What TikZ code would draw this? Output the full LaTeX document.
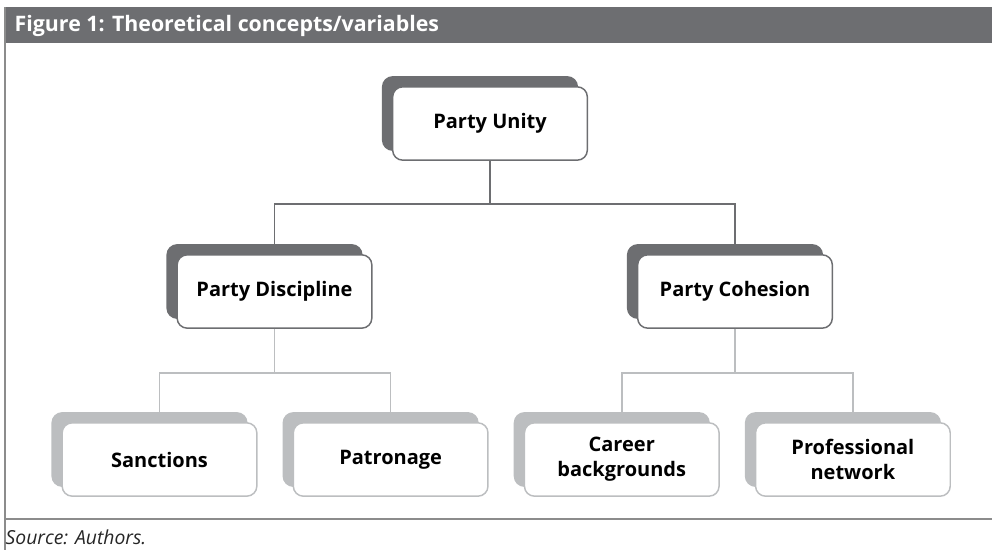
\documentclass[tikz,border=0pt]{standalone}
\usepackage{fontspec}
\setmainfont{Open Sans}
\usepackage{tikz}
\usetikzlibrary{positioning,shadows}
\definecolor{darkgrey}{HTML}{6D6E71}
\definecolor{lightgrey}{HTML}{BCBEC0}
\definecolor{framegrey}{HTML}{8C8C8C}
\tikzset{
  tree/box/.style={draw, fill=white, rounded corners=7.5pt, line width=1.1pt, minimum width=146pt, minimum height=55pt, align=center, font=\fontsize{15}{18.75}\selectfont\bfseries},
  tree/upper/.style={tree/box, draw=darkgrey, copy shadow={shadow xshift=-7.5pt, shadow yshift=7.5pt, fill=darkgrey, draw=darkgrey}},
  tree/leaf/.style={tree/box, draw=lightgrey, copy shadow={shadow xshift=-7.5pt, shadow yshift=7.5pt, fill=lightgrey, draw=lightgrey}},
  tree/link/.style={line width=1.1pt, draw=darkgrey},
  tree/leaflink/.style={line width=1.1pt, draw=lightgrey}
}

\begin{document}
\begin{tikzpicture}[x=0.75pt, y=-0.75pt]
  \useasboundingbox (0,0) rectangle (992,550);

  % frame and header
  \fill[darkgrey] (5,7) rectangle (992,43);
  \node[anchor=west, text=white, font=\fontsize{16}{19}\selectfont\bfseries] (title) at (10,25.5) {Figure 1: Theoretical concepts/variables};
  \draw[framegrey, line width=0.9pt] (5,7) -- (5,550);
  \draw[framegrey, line width=0.9pt] (5,519) -- (992,519);
  \node[anchor=west, font=\fontsize{14.5}{17}\selectfont\itshape, text=black!85] (source) at (1,537) {Source: Authors.};

  % concept tree
  \node[tree/upper] (unity) at (490,123.5) {Party Unity};
  \node[tree/upper] (discipline) at (274.5,291.5) {Party Discipline};
  \node[tree/upper] (cohesion) at (735,291.5) {Party Cohesion};

  \node[tree/leaf] (sanctions) at (159.5,459.5) {Sanctions};
  \node[tree/leaf, right=26.25pt of sanctions] (patronage) {Patronage};
  \node[tree/leaf, right=26.25pt of patronage] (career) {Career\\backgrounds};
  \node[tree/leaf, right=26.25pt of career] (network) {Professional\\network};

  \draw[tree/link] (unity.south) -- ++(0,43) -| (discipline.north);
  \draw[tree/link] (unity.south) -- ++(0,43) -| (cohesion.north);

  \draw[tree/leaflink] (discipline.south) -- ++(0,44) -| (sanctions.north);
  \draw[tree/leaflink] (discipline.south) -- ++(0,44) -| (patronage.north);
  \draw[tree/leaflink] (cohesion.south) -- ++(0,44) -| (career.north);
  \draw[tree/leaflink] (cohesion.south) -- ++(0,44) -| (network.north);
\end{tikzpicture}
\end{document}
